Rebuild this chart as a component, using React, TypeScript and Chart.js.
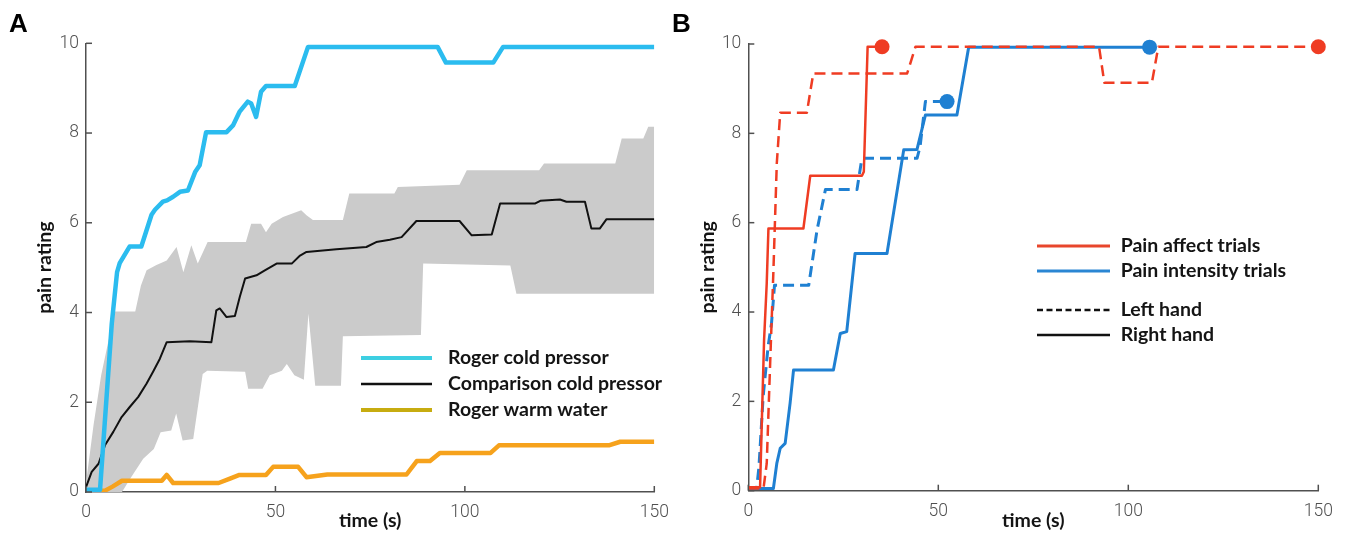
import React, { useEffect, useRef } from 'react';
import { Chart, registerables } from 'chart.js';

Chart.register(...registerables);

type P = [number, number];

// ---------- shared axis tick labels ----------
const timeTicks = [0, 50, 100, 150];
const ratingTicks = [0, 2, 4, 6, 8, 10];

// ---------- Panel A ----------
const rogerCold: P[] = [
  [0, 0.05], [3.7, 0.05], [6.8, 3.75], [8.2, 4.9], [8.9, 5.1], [11.5, 5.47], [14.6, 5.47],
  [17.3, 6.18], [18.2, 6.29], [20.3, 6.47], [21.4, 6.5], [23, 6.58], [24.8, 6.69], [26.9, 6.72],
  [28.8, 7.13], [30, 7.28], [31.7, 8.02], [37.1, 8.02], [38.8, 8.17], [40.5, 8.47], [42.7, 8.7],
  [43.6, 8.66], [44.9, 8.36], [46.2, 8.92], [47.5, 9.05], [55.1, 9.05], [58.6, 9.92], [92.8, 9.92],
  [95, 9.57], [107.5, 9.57], [110.1, 9.92], [150, 9.92],
];
const comparisonCold: P[] = [
  [0, 0.11], [1.5, 0.45], [3.3, 0.63], [5, 1.04], [7.2, 1.34], [9.4, 1.67], [11.6, 1.9], [13.8, 2.12],
  [16, 2.42], [17.7, 2.68], [19.5, 2.97], [21.3, 3.34], [27.4, 3.36], [33.1, 3.34], [34.4, 4.05],
  [35.3, 4.09], [37.1, 3.9], [39.3, 3.92], [40.6, 4.35], [42, 4.76], [45, 4.83], [47.2, 4.94],
  [50.3, 5.09], [54.3, 5.09], [56.5, 5.27], [58.2, 5.35], [66.1, 5.41], [74, 5.46], [76.6, 5.57],
  [80.2, 5.62], [83.3, 5.68], [87.2, 6.04], [98.6, 6.04], [101.8, 5.72], [107.1, 5.74], [109.3, 6.43],
  [118.6, 6.43], [119.9, 6.49], [125.1, 6.52], [126.8, 6.47], [131.7, 6.47], [133.4, 5.87],
  [135.6, 5.87], [137.4, 6.08], [150, 6.08],
];
const comparisonUpper: P[] = [
  [0, 0.2], [2, 1.5], [4, 2.6], [6, 3.4], [7.5, 4.02], [13, 4.02], [14.5, 4.6], [16, 4.94],
  [18.6, 5.06], [21.3, 5.16], [23.9, 5.46], [25.7, 4.9], [27.8, 5.5], [29.5, 5.09], [32.1, 5.57],
  [42.2, 5.57], [43.6, 5.98], [46.2, 5.98], [47.5, 5.79], [49, 5.98], [52, 6.13], [56.8, 6.28],
  [58.2, 6.17], [59.9, 6.06], [67.8, 6.06], [69.5, 6.65], [81.4, 6.65], [82.3, 6.8], [98.6, 6.85],
  [100.5, 7.17], [119.6, 7.17], [120.9, 7.32], [139.7, 7.32], [141.4, 7.88], [147.1, 7.88],
  [148.4, 8.14], [150, 8.14],
];
const comparisonLower: P[] = [
  [0, 0], [9.5, 0], [11.7, 0.3], [15.1, 0.74], [17.9, 0.96], [19.7, 1.33], [22.5, 1.37], [23.8, 1.75],
  [25.5, 1.15], [28.3, 1.18], [30.8, 2.63], [32, 2.7], [42, 2.68], [42.8, 2.3], [46.6, 2.3],
  [48.5, 2.6], [51.7, 2.7], [53, 2.85], [55, 2.6], [57.5, 2.5], [58.7, 3.97], [60.5, 2.37],
  [67.3, 2.37], [67.8, 3.47], [88.4, 3.5], [89, 5.09], [112, 5.05], [113.6, 4.42], [150, 4.42],
];
const warmWater: P[] = [
  [0, 0.03], [5, 0.03], [7, 0.12], [9.5, 0.25], [20, 0.25], [21.3, 0.38], [23, 0.2], [35, 0.2],
  [38, 0.3], [40.5, 0.38], [47.5, 0.38], [49.4, 0.56], [56, 0.56], [58.2, 0.33], [63.7, 0.39],
  [84.6, 0.39], [87.3, 0.69], [90.8, 0.69], [93.4, 0.87], [106.8, 0.87], [109, 1.04], [138, 1.04],
  [141, 1.12], [150, 1.12],
];
const legendA = ['Roger cold pressor', 'Comparison cold pressor', 'Roger warm water'];

// ---------- Panel B ----------
const affectRight: P[] = [
  [0, 0.08], [3.1, 0.08], [3.5, 1.36], [4.15, 3.37], [4.85, 4.64], [5.3, 5.87], [14.5, 5.87],
  [16.3, 7.05], [29.9, 7.05], [30.4, 7.14], [31.4, 9.94], [35.2, 9.94],
];
const affectLeft: P[] = [
  [0, 0.05], [4, 0.05], [4.85, 0.61], [5.9, 3.22], [6.6, 4.9], [7.5, 7.33], [8.4, 8.46], [15.4, 8.46],
  [17.1, 9.34], [41.8, 9.34], [44, 9.94], [92.3, 9.94], [93.7, 9.13], [106.2, 9.13], [107.9, 9.94],
  [150, 9.94],
];
const intensityRight: P[] = [
  [0, 0.05], [6.6, 0.05], [7.5, 0.61], [8.4, 0.95], [9.7, 1.06], [11, 1.96], [11.9, 2.7], [22.4, 2.7],
  [24.2, 3.52], [25.9, 3.56], [28.1, 5.31], [36.5, 5.31], [40.9, 7.63], [44.4, 7.64], [46.6, 8.41],
  [54.9, 8.41], [58, 9.93], [105.6, 9.93],
];
const intensityLeft: P[] = [
  [0, 0.05], [2.2, 0.05], [2.8, 0.53], [3.9, 2.1], [5.2, 3.22], [6.1, 3.74], [6.9, 4.6], [15.9, 4.6],
  [18.1, 5.84], [20.3, 6.74], [28.6, 6.74], [29.9, 7.44], [44.4, 7.44], [45.2, 7.7], [46.6, 8.71],
  [52.3, 8.71],
];
const affectEnds: P[] = [[35.2, 9.94], [150, 9.94]];
const intensityEnds: P[] = [[52.3, 8.71], [105.6, 9.93]];
const legendB = ['Pain affect trials', 'Pain intensity trials', 'Left hand', 'Right hand'];

// ---------- styling ----------
const AXIS = '#505050';
const CYAN = '#2bbcef';
const ORANGE = '#f6a21c';
const GRAY = '#cbcbcb';
const RED = '#ef3c23';
const BLUE = '#1f80d2';
const TEXT = '#141414';
const TICK_FONT = { family: 'Roboto', weight: 300 as any, size: 17.5 };
const TITLE_FONT = { family: 'Lato', weight: 'bold' as any, size: 19.5 };

const toXY = (a: P[]) => a.map(([x, y]) => ({ x, y }));

type LegendItem = { text: string; color: string; width: number; dash?: number[]; y: number };

function decorPlugin(letter: string, letterX: number, legend: LegendItem[], lineX0: number, lineX1: number, textX: number) {
  return {
    id: 'decor' + letter,
    afterDraw(chart: any) {
      const ctx: CanvasRenderingContext2D = chart.ctx;
      const xs = chart.scales.x;
      const ys = chart.scales.y;
      ctx.save();
      // inward tick marks
      ctx.strokeStyle = AXIS;
      ctx.lineWidth = 1.5;
      ctx.setLineDash([]);
      xs.ticks.forEach((t: any) => {
        const px = xs.getPixelForValue(t.value);
        ctx.beginPath();
        ctx.moveTo(px, ys.bottom);
        ctx.lineTo(px, ys.bottom - 6);
        ctx.stroke();
      });
      ys.ticks.forEach((t: any) => {
        const py = ys.getPixelForValue(t.value);
        ctx.beginPath();
        ctx.moveTo(xs.left, py);
        ctx.lineTo(xs.left + 6, py);
        ctx.stroke();
      });
      // panel letter
      ctx.fillStyle = '#000';
      ctx.font = 'bold 26px "Liberation Sans", Arial, sans-serif';
      ctx.textBaseline = 'alphabetic';
      ctx.textAlign = 'left';
      ctx.fillText(letter, letterX, 32);
      // legend
      ctx.font = 'bold 19.5px Lato, sans-serif';
      ctx.textBaseline = 'middle';
      legend.forEach((it) => {
        ctx.strokeStyle = it.color;
        ctx.lineWidth = it.width;
        ctx.setLineDash(it.dash || []);
        ctx.beginPath();
        ctx.moveTo(lineX0, it.y);
        ctx.lineTo(lineX1, it.y);
        ctx.stroke();
        ctx.fillStyle = TEXT;
        ctx.fillText(it.text, textX, it.y);
      });
      ctx.restore();
    },
  };
}

function makeScales(yWidth: number, xHeight: number, yTitlePad: number) {
  return {
    x: {
      type: 'linear' as const,
      min: 0,
      max: 150,
      afterBuildTicks: (s: any) => { s.ticks = timeTicks.map((v) => ({ value: v })); },
      afterFit: (s: any) => { s.height = xHeight; },
      grid: { display: false, drawTicks: false },
      border: { display: true, color: AXIS, width: 1.5 },
      ticks: { font: TICK_FONT, color: AXIS, padding: 10, maxRotation: 0, autoSkip: false },
      title: { display: true, text: 'time (s)', font: TITLE_FONT, color: TEXT, padding: { top: 0, bottom: 11.2 } },
    },
    y: {
      type: 'linear' as const,
      min: 0,
      max: 10,
      afterBuildTicks: (s: any) => { s.ticks = ratingTicks.map((v) => ({ value: v })); },
      afterFit: (s: any) => { s.width = yWidth; },
      grid: { display: false, drawTicks: false },
      border: { display: true, color: AXIS, width: 1.5 },
      ticks: { font: TICK_FONT, color: AXIS, padding: 7, autoSkip: false },
      title: { display: true, text: 'pain rating', font: TITLE_FONT, color: TEXT, padding: { top: yTitlePad, bottom: 0 } },
    },
  };
}

const lineDefaults = { pointRadius: 0, tension: 0, fill: false, borderCapStyle: 'butt' as const, borderJoinStyle: 'round' as const };

function PanelA() {
  const ref = useRef<HTMLCanvasElement>(null);
  useEffect(() => {
    if (!ref.current) return;
    const chart = new Chart(ref.current, {
      type: 'line',
      data: {
        datasets: [
          { ...lineDefaults, label: legendA[0], data: toXY(rogerCold), borderColor: CYAN, borderWidth: 4.5 },
          { ...lineDefaults, label: legendA[1], data: toXY(comparisonCold), borderColor: '#111', borderWidth: 2 },
          { ...lineDefaults, label: legendA[2], data: toXY(warmWater), borderColor: ORANGE, borderWidth: 4.5 },
          { ...lineDefaults, label: 'upper', data: toXY(comparisonUpper), borderColor: 'rgba(0,0,0,0)', borderWidth: 0.01, backgroundColor: GRAY, fill: '+1' },
          { ...lineDefaults, label: 'lower', data: toXY(comparisonLower), borderColor: 'rgba(0,0,0,0)', borderWidth: 0.01 },
        ],
      } as any,
      options: {
        animation: false,
        responsive: false,
        events: [],
        layout: { padding: { left: 0, top: 43.3, right: 680 - 654.3, bottom: 0 } },
        plugins: { legend: { display: false }, tooltip: { enabled: false } },
        scales: makeScales(86, 52, 33.3) as any,
      },
      plugins: [
        decorPlugin('A', 9, [
          { text: legendA[0], color: '#3dcfe2', width: 4, y: 358 },
          { text: legendA[1], color: '#111', width: 2.5, y: 384 },
          { text: legendA[2], color: '#c7ac10', width: 4, y: 410 },
        ], 361, 432, 448) as any,
      ],
    });
    return () => chart.destroy();
  }, []);
  return <canvas ref={ref} width={680} height={544} style={{ position: 'absolute', left: 0, top: 0 }} />;
}

function PanelB() {
  const ref = useRef<HTMLCanvasElement>(null);
  useEffect(() => {
    if (!ref.current) return;
    const chart = new Chart(ref.current, {
      type: 'line',
      data: {
        datasets: [
          { label: 'affect ends', data: toXY(affectEnds), showLine: false, pointRadius: 7.5, pointBackgroundColor: RED, pointBorderWidth: 0, clip: false },
          { label: 'intensity ends', data: toXY(intensityEnds), showLine: false, pointRadius: 7.5, pointBackgroundColor: BLUE, pointBorderWidth: 0, clip: false },
          { ...lineDefaults, label: 'Pain affect trials (right)', data: toXY(affectRight), borderColor: RED, borderWidth: 2.5 },
          { ...lineDefaults, label: 'Pain affect trials (left)', data: toXY(affectLeft), borderColor: RED, borderWidth: 2.5, borderDash: [11, 6] },
          { ...lineDefaults, label: 'Pain intensity trials (left)', data: toXY(intensityLeft), borderColor: BLUE, borderWidth: 3, borderDash: [11, 6] },
          { ...lineDefaults, label: 'Pain intensity trials (right)', data: toXY(intensityRight), borderColor: BLUE, borderWidth: 3 },
        ],
      } as any,
      options: {
        animation: false,
        responsive: false,
        events: [],
        layout: { padding: { left: 0, top: 44, right: 1350 - 1318.3, bottom: 0 } },
        plugins: { legend: { display: false }, tooltip: { enabled: false } },
        scales: makeScales(748.3 - 660, 53.3, 36.3) as any,
      },
      plugins: [
        decorPlugin('B', 12, [
          { text: legendB[0], color: '#e8462c', width: 3, y: 246 },
          { text: legendB[1], color: '#2a86d3', width: 3, y: 271 },
          { text: legendB[2], color: '#111', width: 2.5, dash: [6, 3.5], y: 310 },
          { text: legendB[3], color: '#111', width: 2.5, y: 335 },
        ], 377, 450, 460.7) as any,
      ],
    });
    return () => chart.destroy();
  }, []);
  return <canvas ref={ref} width={690} height={544} style={{ position: 'absolute', left: 660, top: 0 }} />;
}

export default function App() {
  return (
    <div style={{ position: 'absolute', left: 0, top: 0, width: 1350, height: 544, background: '#fff', overflow: 'hidden' }}>
      <PanelA />
      <PanelB />
    </div>
  );
}
